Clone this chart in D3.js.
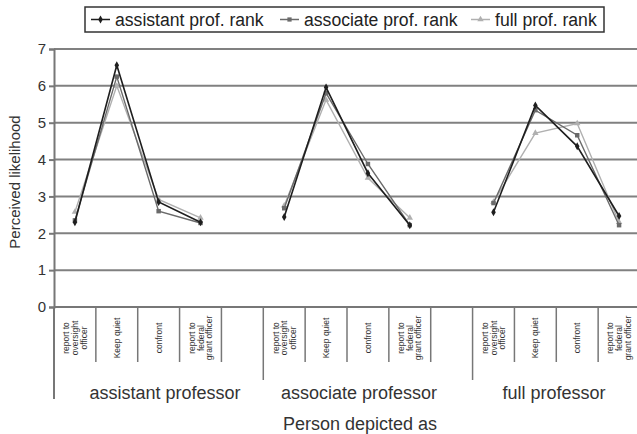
<!DOCTYPE html>
<html><head><meta charset="utf-8">
<script src="https://cdn.jsdelivr.net/npm/d3@7"></script>
<style>body{margin:0;background:#fff}svg{display:block;font-family:"Liberation Sans",Arial,sans-serif}</style>
</head><body><svg id="c" width="637" height="434"></svg>
<script>
const groups = ["assistant professor", "associate professor", "full professor"];
const actions = [["report to","oversight","officer"], ["Keep quiet"], ["confront"], ["report to","federal","grant officer"]];
const seriesNames = ["assistant prof. rank", "associate prof. rank", "full prof. rank"];
const assistantRank = [2.30, 6.56, 2.85, 2.30,  2.44, 5.96, 3.63, 2.22,  2.57, 5.47, 4.36, 2.47];
const associateRank = [2.35, 6.25, 2.60, 2.28,  2.68, 5.80, 3.88, 2.22,  2.82, 5.34, 4.66, 2.22];
const fullRank      = [2.58, 6.00, 2.92, 2.42,  2.75, 5.62, 3.50, 2.42,  2.85, 4.72, 4.98, 2.30];
const yTicks = [0,1,2,3,4,5,6,7];
const xTitle = "Person depicted as";
const yTitle = "Perceived likelihood";

const colors = ["#1e1e1e", "#6a6a6a", "#b0b0b0"];
const svg = d3.select("#c");
const mLeft = 54, mRight = 640, mTop = 49, mBottom = 307;

const slots = [];
groups.forEach((g, gi) => { actions.forEach((a, ai) => slots.push(gi + "-" + ai)); if (gi < groups.length - 1) slots.push("gap" + gi); });
const x = d3.scaleBand().domain(slots).range([mLeft, mRight]);
const y = d3.scaleLinear().domain([0, 7]).range([mBottom, mTop]);

svg.append("g").selectAll("line").data(yTicks.filter(d => d > 0)).join("line")
  .attr("x1", mLeft).attr("x2", 637).attr("y1", d => y(d)).attr("y2", d => y(d))
  .attr("stroke", "#808080").attr("stroke-width", 2);

const yAx = svg.append("g").attr("transform", `translate(${mLeft},0)`)
  .call(d3.axisLeft(y).tickValues(yTicks).tickSize(5).tickPadding(3).tickFormat(d3.format("d")));
yAx.select(".domain").attr("stroke", "#777").attr("stroke-width", 2);
yAx.selectAll(".tick line").attr("stroke", "#777").attr("stroke-width", 2);
yAx.selectAll("text").attr("font-size", 15).attr("fill", "#333").attr("font-family", "Liberation Sans, Arial, sans-serif");

svg.append("text").attr("transform", `translate(20,182) rotate(-90)`)
  .attr("text-anchor", "middle").attr("font-size", 15).attr("fill", "#333").text(yTitle);

svg.append("line").attr("x1", mLeft).attr("x2", 637).attr("y1", mBottom).attr("y2", mBottom)
  .attr("stroke", "#777").attr("stroke-width", 2);

const bw = x.bandwidth();
slots.forEach((s, i) => {
  if (i === 0) return;
  const xx = x(s);
  const isGroupStart = s.endsWith("-0");
  svg.append("line").attr("x1", xx).attr("x2", xx).attr("y1", mBottom).attr("y2", isGroupStart ? 380 : 362)
    .attr("stroke", "#777").attr("stroke-width", 1.5);
});
svg.append("line").attr("x1", mLeft).attr("x2", mLeft).attr("y1", mBottom).attr("y2", 399).attr("stroke", "#777").attr("stroke-width", 2);

const groupLabelX = [165, 359, 554];
groups.forEach((g, gi) => {
  actions.forEach((lines, ai) => {
    const cx = x(gi + "-" + ai) + bw / 2;
    const t = svg.append("text").attr("transform", `translate(${cx},338) rotate(-90)`)
      .attr("text-anchor", "middle").attr("font-size", 8.5).attr("fill", "#333");
    const n = lines.length;
    lines.forEach((ln, li) => {
      t.append("tspan").attr("x", 0).attr("y", (li - (n - 1) / 2) * 8.6 + 3).text(ln);
    });
  });
  svg.append("text").attr("x", groupLabelX[gi]).attr("y", 399).attr("text-anchor", "middle")
    .attr("font-size", 18).attr("fill", "#333").text(g);
});

svg.append("text").attr("x", 360).attr("y", 430).attr("text-anchor", "middle")
  .attr("font-size", 18).attr("fill", "#333").text(xTitle);

const allSeries = [assistantRank, associateRank, fullRank];
const pts = vals => vals.map((v, i) => ({ gi: Math.floor(i / 4), ai: i % 4, v }));
const line = d3.line().x(d => x(d.gi + "-" + d.ai) + bw / 2).y(d => y(d.v));
const symbols = [d3.symbolDiamond, d3.symbolSquare, d3.symbolTriangle];
[2, 1, 0].forEach(si => {
  const p = pts(allSeries[si]);
  groups.forEach((g, gi) => {
    svg.append("path").datum(p.filter(d => d.gi === gi)).attr("d", line)
      .attr("fill", "none").attr("stroke", colors[si]).attr("stroke-width", si === 0 ? 1.6 : 1.4);
  });
  svg.append("g").selectAll("path").data(p).join("path")
    .attr("transform", d => `translate(${x(d.gi + "-" + d.ai) + bw / 2},${y(d.v)})`)
    .attr("d", d3.symbol().type(symbols[si]).size(si === 1 ? 20 : 18)).attr("fill", colors[si]);
});

const lg = svg.append("g");
lg.append("rect").attr("x", 85).attr("y", 7).attr("width", 519).attr("height", 25)
  .attr("fill", "#fff").attr("stroke", "#333").attr("stroke-width", 1.5);
const lgX = [91, 280, 471];
seriesNames.forEach((n, i) => {
  const lx = lgX[i];
  lg.append("line").attr("x1", lx).attr("x2", lx + 19).attr("y1", 19.5).attr("y2", 19.5).attr("stroke", colors[i]).attr("stroke-width", 1.5);
  lg.append("path").attr("transform", `translate(${lx + 9.5},19.5)`).attr("d", d3.symbol().type(symbols[i]).size(18)).attr("fill", colors[i]);
  lg.append("text").attr("x", lx + 24).attr("y", 26).attr("font-size", 17.6).attr("fill", "#222").text(n);
});
</script></body></html>
